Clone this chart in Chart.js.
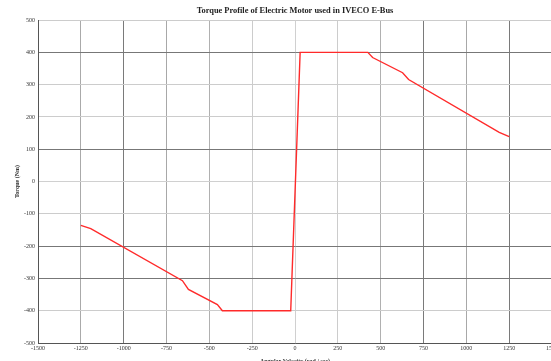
<!DOCTYPE html>
<html>
<head>
<meta charset="utf-8">
<script src="https://cdn.jsdelivr.net/npm/chart.js@4"></script>
<style>
  body { margin: 0; background: #fff; }
  #wrap { width: 551px; height: 361px; overflow: hidden; position: relative; }
  #wrap canvas { position: absolute; left: 0; top: 0; }
</style>
</head>
<body>
<div id="wrap"><canvas id="torque" width="575" height="365"></canvas></div>
<script>
// angular velocity (rad/sec) and torque (Nm)
let speed  = [-1250, -1192, -657, -622, -453, -424, -25, 30, 425, 453, 628, 663, 1192, 1250];
let torque = [-136, -146, -307, -334, -381, -400, -400, 400, 400, 384, 337, 316, 152, 139];

let xTicks = [-1500, -1250, -1000, -750, -500, -250, 0, 250, 500, 750, 1000, 1250, 1500];
let yTicks = [-500, -400, -300, -200, -100, 0, 100, 200, 300, 400, 500];

// grid shades as they appear in the scan
let xGrid = {'-1250':'#aaaaaa','-1000':'#7a7a7a','-750':'#a8a8a8','-500':'#b0b0b0','-250':'#cccccc','0':'#d0d0d0',
             '250':'#cccccc','500':'#b0b0b0','750':'#7a7a7a','1000':'#a8a8a8','1250':'#7a7a7a'};
let yGrid = {'500':'#cccccc','400':'#777777','300':'#cccccc','200':'#cccccc','100':'#777777','0':'#d0d0d0',
             '-100':'#cccccc','-200':'#777777','-300':'#777777','-400':'#cccccc'};

let pts = speed.map((v, i) => ({x: v, y: torque[i]}));

let tickFont = {family: 'Liberation Serif', size: 6};

// centre the title over the plot area instead of the whole canvas
let titleOverPlot = {
    id: 'titleOverPlot',
    afterLayout(chart) {
        let t = chart.titleBlock;
        if (t) {
            t.left = chart.chartArea.left;
            t.right = chart.chartArea.right;
            t.width = t.right - t.left;
        }
    }
};

let ctx = document.getElementById('torque').getContext('2d');
let chart = new Chart(ctx, {
    type: 'scatter',
    data: {
        datasets: [{
            data: pts,
            showLine: true,
            borderColor: '#ff2a2a',
            borderWidth: 1.4,
            pointRadius: 0,
            tension: 0
        }]
    },
    plugins: [titleOverPlot],
    options: {
        responsive: false,
        animation: false,
        layout: {padding: {left: 0, right: 23, top: 0, bottom: 0}},
        plugins: {
            legend: {display: false},
            tooltip: {enabled: false},
            title: {
                display: true,
                text: 'Torque Profile of Electric Motor used in IVECO E-Bus',
                color: '#222',
                font: {family: 'Liberation Serif', size: 8.4, weight: 'bold'},
                padding: {top: 6, bottom: 4}
            }
        },
        scales: {
            x: {
                type: 'linear',
                min: -1500, max: 1500,
                afterBuildTicks: s => { s.ticks = xTicks.map(v => ({value: v})); },
                afterFit: s => { s.height = 22; },
                ticks: {color: '#333', font: tickFont, padding: 2, maxRotation: 0, callback: v => String(v)},
                grid: {
                    color: c => xGrid[String(c.tick.value)] || '#999',
                    lineWidth: 1,
                    drawTicks: false
                },
                border: {color: '#555', width: 1},
                title: {
                    display: true,
                    text: 'Angular Velocity (rad / sec)',
                    color: '#333',
                    font: {family: 'Liberation Serif', size: 6, weight: 'bold'},
                    padding: {top: 1, bottom: 0}
                }
            },
            y: {
                min: -500, max: 500,
                afterBuildTicks: s => { s.ticks = yTicks.map(v => ({value: v})); },
                afterFit: s => { s.width = 38; },
                ticks: {color: '#333', font: tickFont, padding: 3, callback: v => String(v)},
                grid: {
                    color: c => yGrid[String(c.tick.value)] || '#999',
                    lineWidth: 1,
                    drawTicks: false
                },
                border: {color: '#555', width: 1},
                title: {
                    display: true,
                    text: 'Torque (Nm)',
                    color: '#333',
                    font: {family: 'Liberation Serif', size: 6, weight: 'bold'},
                    padding: {top: 14, bottom: 4}
                }
            }
        }
    }
});
</script>
</body>
</html>
